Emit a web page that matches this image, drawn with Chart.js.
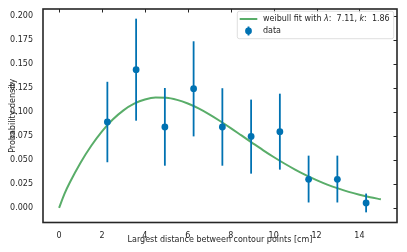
<!DOCTYPE html>
<html><head><meta charset="utf-8">
<script src="https://cdn.jsdelivr.net/npm/chart.js@4.4.1/dist/chart.umd.min.js"></script>
<style>html,body{margin:0;padding:0;background:#fff;} #wrap{width:407px;height:252px;}</style>
</head><body><div id="wrap"><canvas id="c" width="407" height="252"></canvas></div>
<script>
// ---- data ----
const binCenters = [2.25, 3.59, 4.93, 6.27, 7.61, 8.95, 10.29, 11.63, 12.97, 14.31];
const density    = [0.0898, 0.1444, 0.0845, 0.1245, 0.0845, 0.0747, 0.0796, 0.0299, 0.0299, 0.0052];
const errLow     = [0.0477, 0.0911, 0.0441, 0.0747, 0.0441, 0.0358, 0.0400, 0.0057, 0.0057, -0.0046];
const errHigh    = [0.1317, 0.1976, 0.1252, 0.1740, 0.1250, 0.1131, 0.1193, 0.0546, 0.0546, 0.0150];
const fitX = [0, 0.25, 0.5, 1, 1.5, 2, 2.5, 3, 3.5, 4, 4.5, 5, 5.5, 6, 6.5, 7, 7.5, 8, 8.5, 9, 9.5, 10, 10.5, 11, 11.5, 12, 12.5, 13, 13.5, 14, 14.5, 15];
const fitY = [0, 0.0147, 0.0265, 0.0472, 0.0649, 0.0800, 0.0923, 0.1019, 0.1088, 0.1132, 0.1152, 0.1150, 0.1128, 0.1090, 0.1039, 0.0977, 0.0908, 0.0834, 0.0757, 0.0680, 0.0604, 0.0532, 0.0464, 0.0401, 0.0343, 0.0291, 0.0244, 0.0204, 0.0168, 0.0138, 0.0112, 0.0090];
const xTicks = [0, 2, 4, 6, 8, 10, 12, 14];
const yTicks = [0, 0.025, 0.05, 0.075, 0.1, 0.125, 0.15, 0.175, 0.2];
const fitLabelParts = [['weibull fit with ', false], ['λ', true], [':  7.11, ', false], ['k', true], [':  1.86', false]];
const dataLabel = 'data';
const xTitle = 'Largest distance between contour points [cm]';
const yTitle = 'Probability density';

const BLUE = '#0072B2', GREEN = '#59AD69', INK = '#262626';
const FAM = "'DejaVu Sans'";
Chart.defaults.font.family = FAM;
Chart.defaults.font.size = 8;
Chart.defaults.color = INK;

const deco = {
  id: 'deco',
  beforeDatasetDraw(chart, args) {
    if (args.index !== 1) return;
    const {ctx, scales: {x, y}} = chart;
    ctx.save();
    ctx.strokeStyle = BLUE; ctx.lineWidth = 1.8; ctx.lineCap = 'butt';
    binCenters.forEach((c, i) => {
      const px = x.getPixelForValue(c);
      ctx.beginPath();
      ctx.moveTo(px, y.getPixelForValue(errLow[i]));
      ctx.lineTo(px, y.getPixelForValue(errHigh[i]));
      ctx.stroke();
    });
    ctx.restore();
  },
  afterDraw(chart) {
    const {ctx, chartArea: ca, scales: {x, y}} = chart;
    ctx.save();
    // inward ticks on top and right
    ctx.strokeStyle = INK; ctx.lineWidth = 1;
    xTicks.forEach(v => {
      const px = Math.round(x.getPixelForValue(v)) + 0.5;
      ctx.beginPath(); ctx.moveTo(px, ca.top); ctx.lineTo(px, ca.top + 3.5); ctx.stroke();
    });
    yTicks.forEach(v => {
      const py = Math.round(y.getPixelForValue(v)) + 0.5;
      ctx.beginPath(); ctx.moveTo(ca.right, py); ctx.lineTo(ca.right - 3.5, py); ctx.stroke();
    });
    // spines
    ctx.lineWidth = 1.6; ctx.strokeStyle = INK;
    ctx.strokeRect(ca.left, ca.top, ca.right - ca.left, ca.bottom - ca.top);

    // legend
    const normal = "8px " + FAM, ital = "oblique 8px " + FAM;
    let w = 0;
    fitLabelParts.forEach(([t, it]) => { ctx.font = it ? ital : normal; w += ctx.measureText(t).width; });
    const boxR = ca.right - 3.3, boxT = ca.top + 2.3, boxB = ca.top + 29.7;
    const boxL = boxR - (w + 4 + 5.7 + 17.6 + 2.4);
    ctx.beginPath();
    if (ctx.roundRect) ctx.roundRect(boxL, boxT, boxR - boxL, boxB - boxT, 2); else ctx.rect(boxL, boxT, boxR - boxL, boxB - boxT);
    ctx.fillStyle = 'rgba(255,255,255,0.8)'; ctx.fill();
    ctx.strokeStyle = '#d6d6d6'; ctx.lineWidth = 0.8; ctx.stroke();
    const hx0 = boxL + 2.4, hx1 = hx0 + 17.6, tx = hx1 + 5.7;
    const r1 = ca.top + 10, r2 = ca.top + 22;
    ctx.strokeStyle = GREEN; ctx.lineWidth = 2;
    ctx.beginPath(); ctx.moveTo(hx0, r1); ctx.lineTo(hx1, r1); ctx.stroke();
    const mx = (hx0 + hx1) / 2;
    ctx.strokeStyle = BLUE; ctx.lineWidth = 1.8;
    ctx.beginPath(); ctx.moveTo(mx, r2 - 4.5); ctx.lineTo(mx, r2 + 4.5); ctx.stroke();
    ctx.fillStyle = BLUE; ctx.beginPath(); ctx.arc(mx, r2, 3.4, 0, Math.PI * 2); ctx.fill();
    ctx.fillStyle = INK; ctx.textBaseline = 'middle'; ctx.textAlign = 'left';
    let cx = tx;
    fitLabelParts.forEach(([t, it]) => { ctx.font = it ? ital : normal; ctx.fillText(t, cx, r1); cx += ctx.measureText(t).width; });
    ctx.font = normal; ctx.fillText(dataLabel, tx, r2);
    ctx.restore();
  }
};

new Chart(document.getElementById('c'), {
  type: 'scatter',
  data: {
    datasets: [
      { type: 'line', label: 'fit', data: fitX.map((v, i) => ({x: v, y: fitY[i]})),
        borderColor: GREEN, borderWidth: 2, pointRadius: 0, fill: false,
        cubicInterpolationMode: 'monotone', order: 2 },
      { type: 'scatter', label: dataLabel, data: binCenters.map((v, i) => ({x: v, y: density[i]})),
        backgroundColor: BLUE, borderColor: BLUE, borderWidth: 0, pointRadius: 3.4, order: 1 }
    ]
  },
  options: {
    responsive: false, animation: false,
    layout: { padding: { top: 9, right: 10, left: 0, bottom: 0 } },
    plugins: { legend: { display: false }, tooltip: { enabled: false } },
    scales: {
      x: {
        type: 'linear', min: -0.75, max: 15.75,
        grid: { display: false }, border: { display: false },
        ticks: { padding: 1, autoSkip: false, maxRotation: 0, color: INK, callback: v => String(v) },
        afterBuildTicks: s => { s.ticks = xTicks.map(v => ({value: v})); },
        afterFit: s => { s.height = 29.5; },
        title: { display: true, text: xTitle, color: INK, padding: { top: 0, bottom: 7.6 } }
      },
      y: {
        type: 'linear', min: -0.0152, max: 0.2077,
        grid: { display: false }, border: { display: false },
        ticks: { padding: 2, autoSkip: false, color: INK, callback: v => v.toFixed(3) },
        afterBuildTicks: s => { s.ticks = yTicks.map(v => ({value: v})); },
        afterFit: s => { s.width = 43; },
        title: { display: true, text: yTitle, color: INK, padding: { top: 8, bottom: 0 } }
      }
    }
  },
  plugins: [deco]
});
</script>
</body></html>
